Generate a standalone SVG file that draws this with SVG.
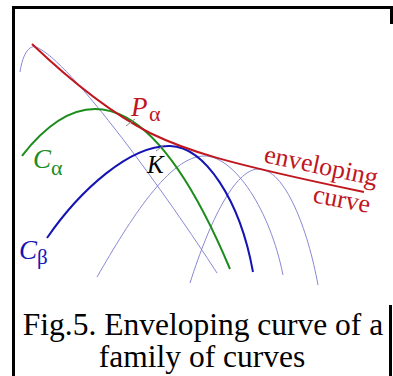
<svg xmlns="http://www.w3.org/2000/svg" width="393" height="376" viewBox="0 0 393 376">
<style>
.thin{fill:none;stroke:#7b7bd0;stroke-width:0.9}
.thick{fill:none;stroke-width:2}
.tick{stroke:#888;stroke-width:1}
text{font-family:"Liberation Serif","Times New Roman",serif}
.it{font-style:italic}
.red{fill:#c0161e}
.green{fill:#1c8c1c}
.blue{fill:#1414b4}
.cap{font-size:31.5px;fill:#000;text-anchor:middle}
</style>
<rect width="393" height="376" fill="#fff"/>
<g id="frame" fill="none" stroke="#000" stroke-width="3">
<path d="M13.5,376 V7.5 H391.5 V24"/>
<path d="M390.5,305 V376"/>
</g>
<g id="connectors">
<path id="thin1" class="thin" d="M20,72 C23,52 30,45 36,47 C70,60 170,200 217,273"/>
<path id="thin3" class="thin" d="M97,277 C130,220 170,155 205,156 C235,157 270,210 283,275"/>
<path id="thin4" class="thin" d="M190,283 C210,220 235,170 258,169 C285,168 308,230 318,285"/>
<path id="green" class="thick" stroke="#1c8c1c" d="M22,155.8 Q126,22.5 230,269"/>
<path id="blue" class="thick" stroke="#1414b4" d="M47,238 C80,190 130,145 170,146 C205,147 240,200 253,272"/>
<path id="red" class="thick" stroke="#c0161e" d="M32,44 C75,85 115,115 150,133 C185,150 220,162 364,192"/>
<line class="tick" x1="126" y1="126" x2="135" y2="119"/>
<line class="tick" x1="156" y1="151" x2="164" y2="145"/>
</g>
<g id="label-P">
<text class="it red" x="131" y="116" font-size="27">P</text>
<text class="red" x="149" y="121" font-size="22">α</text>
</g>
<g id="label-Calpha">
<text class="it green" x="33" y="168" font-size="27">C</text>
<text class="green" x="51" y="175" font-size="22">α</text>
</g>
<g id="label-Cbeta">
<text class="it blue" x="19" y="259" font-size="27">C</text>
<text class="blue" x="37" y="264" font-size="21">β</text>
</g>
<g id="label-K">
<text class="it" x="147" y="173" font-size="25" fill="#000">K</text>
</g>
<g id="label-enveloping">
<text class="red" font-size="26" transform="translate(263,162) rotate(12)">enveloping</text>
<text class="red" font-size="26" transform="translate(312,202) rotate(11)">curve</text>
</g>
<g id="caption">
<text class="cap" x="203" y="335">Fig.5. Enveloping curve of a</text>
<text class="cap" x="202" y="367">family of curves</text>
</g>
</svg>
